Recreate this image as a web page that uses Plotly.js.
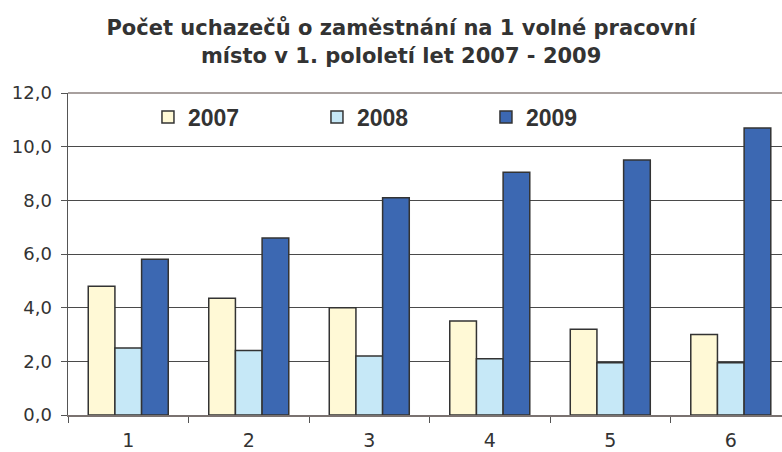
<!DOCTYPE html>
<html>
<head>
<meta charset="utf-8">
<script src="https://cdn.plot.ly/plotly-3.0.1.min.js"></script>
<style>html,body{margin:0;padding:0;background:#fff;}#chart{width:782px;height:452px;}</style>
</head>
<body>
<div id="chart"></div>
<script>
const categories = ['1', '2', '3', '4', '5', '6'];
const values2007 = [4.8, 4.35, 4.0, 3.5, 3.2, 3.0];
const values2008 = [2.5, 2.4, 2.2, 2.1, 1.95, 1.95];
const values2009 = [5.8, 6.6, 8.1, 9.05, 9.5, 10.7];
const seriesNames = ['2007', '2008', '2009'];
const seriesColors = ['#FFF9D6', '#C6E8F7', '#3C68B2'];
const titleText = 'Počet uchazečů o zaměstnání na 1 volné pracovní<br>místo v 1. pololetí let 2007 - 2009';

const allValues = [values2007, values2008, values2009];
const traces = allValues.map((vals, i) => ({
  type: 'bar',
  x: categories,
  y: vals,
  name: seriesNames[i],
  marker: {color: seriesColors[i], line: {color: '#333333', width: 1.5}},
  hoverinfo: 'x+y'
}));

const layout = {
  width: 782,
  height: 452,
  margin: {l: 68, r: 0, t: 93, b: 37},
  paper_bgcolor: '#ffffff',
  plot_bgcolor: '#ffffff',
  separators: ', ',
  font: {family: 'DejaVu Sans, sans-serif', color: '#333333', size: 18},
  title: {
    text: titleText,
    font: {family: 'DejaVu Sans, sans-serif', size: 21, color: '#333333', weight: 'bold'},
    x: 0.513, xanchor: 'center',
    y: 0.922, yanchor: 'top'
  },
  barmode: 'group',
  bargap: 0.336,
  bargroupgap: 0,
  showlegend: true,
  legend: {
    orientation: 'h',
    x: 0.112, xanchor: 'left',
    y: 0.992, yanchor: 'top',
    bgcolor: 'rgba(0,0,0,0)',
    font: {family: 'Liberation Sans, Arial, sans-serif', size: 23, color: '#333333', weight: 'bold'},
    entrywidth: 124,
    entrywidthmode: 'pixels',
    traceorder: 'normal'
  },
  xaxis: {
    type: 'category',
    range: [-0.5, 5.425],
    tickson: 'boundaries',
    ticks: 'outside',
    ticklen: 6,
    tickcolor: '#555555',
    ticklabelstandoff: 7,
    showline: true,
    linecolor: '#7a7270',
    linewidth: 2,
    showgrid: false,
    tickfont: {family: 'DejaVu Sans, sans-serif', size: 19, color: '#333333'},
    fixedrange: true
  },
  yaxis: {
    range: [0, 12],
    dtick: 2,
    tickformat: '.1f',
    ticks: 'outside',
    ticklen: 6,
    tickcolor: '#555555',
    ticklabelstandoff: 5,
    showline: true,
    linecolor: '#555555',
    linewidth: 1.5,
    showgrid: true,
    gridcolor: '#4a4a4a',
    gridwidth: 1,
    zeroline: false,
    tickfont: {family: 'DejaVu Sans, sans-serif', size: 18, color: '#333333'},
    fixedrange: true
  },
  shapes: [{
    type: 'line', xref: 'paper', yref: 'paper', x0: 0, x1: 1, y0: 1, y1: 1,
    line: {color: '#a8a09e', width: 2}
  }]
};

Plotly.newPlot('chart', traces, layout, {displayModeBar: false, staticPlot: true});
</script>
</body>
</html>
